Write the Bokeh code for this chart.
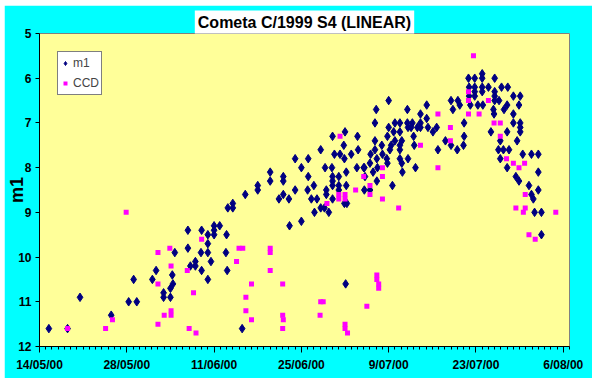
import pandas as pd
from bokeh.plotting import figure
from bokeh.layouts import column, row
from bokeh.models import Range1d, FixedTicker, Legend, Spacer
from bokeh.embed import file_html
from bokeh.resources import INLINE

START = "2000-05-14"
END = "2000-08-07"
tick_dates = ["2000-05-14", "2000-05-28", "2000-06-11", "2000-06-25",
              "2000-07-09", "2000-07-23", "2000-08-06"]
tick_labels = ["14/05/00", "28/05/00", "11/06/00", "25/06/00",
               "9/07/00", "23/07/00", "6/08/00"]
y_ticks = [5, 6, 7, 8, 9, 10, 11, 12]

# visual observations (m1): days after 14/05/2000, magnitude
m1_day = [1.5, 4.5, 6.5, 11.5, 14.3, 15.6, 15.1, 18.1, 18.7, 19.9, 19.9, 21.0, 21.0, 21.4, 21.3,
          21.7, 23.8, 23.8, 24.2, 25.0, 25.0, 26.0, 25.9, 26.0, 27.0, 27.0, 27.0, 27.0, 27.5,
          28.0, 28.0, 28.0, 28.9, 29.9, 30.1, 30.0, 32.5, 30.2, 31.0, 31.0, 33.0, 35.0, 35.0,
          37.0, 37.0, 39.1, 39.1, 39.1, 38.4, 40.0, 40.1, 41.0, 41.0, 42.0, 42.0, 43.1, 43.1,
          43.0, 43.6, 44.0, 44.5, 44.1, 45.1, 45.1, 45.7, 45.8, 46.0, 46.0, 46.4, 46.9, 47.0,
          47.3, 47.0, 47.0, 47.0, 47.0, 48.0, 48.0, 48.2, 48.8, 48.9, 48.9, 49.0, 49.2, 49.2,
          49.3, 49.1, 50.0, 50.9, 51.0, 51.1, 52.1, 52.2, 52.1, 53.0, 53.1, 53.5, 53.0, 53.8,
          53.8, 53.8, 54.0, 54.1, 54.2, 54.1, 54.9, 55.0, 55.8, 55.8, 56.0, 56.0, 56.2, 56.4,
          56.6, 56.8, 57.0, 57.0, 57.8, 57.8, 57.8, 57.8, 57.8, 58.1, 58.2, 58.1, 59.0, 59.0,
          59.1, 59.1, 59.8, 59.6, 60.0, 60.1, 60.3, 60.6, 61.1, 61.1, 61.1, 62.1, 62.1, 62.3,
          63.1, 63.7, 63.9, 65.1, 66.0, 66.0, 66.3, 67.0, 67.1, 67.4, 68.0, 68.1, 68.1, 68.8,
          68.9, 68.9, 69.1, 69.8, 69.8, 69.8, 69.8, 70.3, 71.0, 71.0, 71.0, 71.0, 71.1, 72.0,
          72.4, 72.8, 72.9, 73.0, 73.0, 73.0, 73.0, 73.7, 73.9, 73.6, 74.4, 73.9, 74.1, 75.0,
          75.0, 75.3, 75.0, 75.1, 76.0, 76.0, 76.0, 76.6, 76.4, 76.9, 76.9, 77.1, 77.1, 77.1,
          77.1, 77.5, 78.9, 80.0, 80.0, 78.5, 78.9, 79.2, 80.0, 79.4, 80.5, 80.5, 74.5, 55.7,
          48.0, 52.0]
m1_mag = [11.6, 11.6, 10.9, 11.3, 11.0, 11.0, 10.5, 10.5, 10.3, 10.8, 10.9, 10.9, 10.7, 10.6, 10.4,
          9.9, 9.4, 9.8, 10.2, 10.1, 10.2, 9.4, 9.9, 10.3, 9.5, 9.7, 9.9, 10.5, 10.1,
          9.3, 9.4, 9.5, 9.3, 9.9, 10.3, 9.5, 11.6, 8.9, 8.8, 8.9, 8.6, 8.4, 8.5,
          8.1, 8.3, 8.2, 8.3, 8.6, 8.7, 8.7, 9.3, 7.8, 8.5, 8.0, 9.2, 7.8, 8.2,
          8.5, 8.7, 8.4, 8.7, 9.0, 7.6, 8.9, 8.9, 8.0, 8.5, 8.6, 9.0, 8.0, 7.3,
          7.7, 8.2, 8.3, 8.4, 8.7, 8.4, 8.5, 7.7, 7.5, 7.8, 8.8, 7.2, 8.1, 8.4,
          8.8, 10.6, 7.7, 8.0, 7.3, 7.6, 8.0, 8.2, 8.5, 7.9, 7.7, 8.1, 8.5, 7.0,
          7.4, 7.6, 6.7, 7.8, 8.0, 8.3, 7.5, 7.7, 7.3, 7.9, 6.5, 7.1, 7.6, 7.5,
          8.4, 7.2, 7.0, 7.4, 7.0, 7.2, 7.5, 7.6, 7.8, 7.9, 8.1, 7.4, 6.7, 7.0,
          7.1, 7.8, 7.0, 7.1, 7.3, 7.5, 8.0, 7.1, 6.8, 7.0, 7.1, 6.6, 6.9, 7.1,
          7.2, 7.1, 7.6, 7.4, 6.5, 7.5, 6.7, 7.6, 6.5, 6.6, 7.5, 7.0, 7.3, 6.0,
          6.2, 6.4, 6.6, 6.0, 6.2, 6.3, 6.4, 6.6, 5.9, 6.0, 6.2, 6.3, 6.6, 6.2,
          7.2, 6.7, 6.8, 6.0, 6.3, 6.4, 6.5, 6.5, 7.4, 7.6, 7.6, 7.8, 6.2, 6.6,
          7.2, 7.6, 8.0, 6.2, 6.4, 6.8, 7.0, 7.4, 8.2, 8.3, 6.6, 6.4, 7.0, 7.1,
          7.2, 7.7, 7.7, 7.7, 8.1, 8.4, 8.6, 8.7, 8.5, 9.0, 9.0, 9.5, 6.7, 7.8,
          8.2, 8.0]

# CCD observations: days after 14/05/2000, magnitude
ccd_day = [4.5, 10.6, 11.7, 13.9, 19.0, 19.0, 19.0, 20.0, 20.9, 21.1, 21.1, 21.1, 23.7, 24.7,
           24.0, 25.1, 26.0, 31.6, 32.0, 32.6, 33.1, 33.1, 34.0, 34.0, 37.0, 37.0, 37.0, 39.0,
           39.0, 39.1, 39.0, 45.1, 45.5, 45.0, 49.0, 49.0, 49.4, 54.1, 54.1, 54.4, 54.4, 52.5,
           46.1, 48.0, 48.0, 49.0, 49.0, 48.2, 50.7, 52.0, 53.0, 53.0, 55.0, 55.0, 55.0, 57.6,
           61.1, 63.9, 63.9, 65.9, 65.9, 68.8, 68.8, 68.8, 69.6, 70.5, 72.0, 72.9, 73.9, 73.9,
           74.9, 76.0, 76.9, 77.8, 77.9, 76.4, 77.9, 77.6, 82.8, 78.5, 79.5]
ccd_mag = [11.6, 11.6, 11.4, 9.0, 9.9, 10.6, 11.5, 11.3, 9.8, 10.2, 11.2, 11.3, 10.3, 10.8,
           11.6, 11.7, 9.6, 10.1, 9.8, 9.8, 10.9, 11.2, 10.6, 11.4, 9.8, 9.9, 10.3, 10.6,
           11.3, 11.4, 11.6, 11.0, 11.0, 11.3, 11.5, 11.6, 11.7, 10.4, 10.5, 10.6, 10.7, 11.1,
           8.8, 8.6, 8.7, 8.6, 8.7, 7.3, 8.5, 8.2, 8.4, 8.6, 8.0, 8.2, 8.7, 8.9,
           7.5, 6.8, 8.0, 7.1, 7.4, 6.3, 6.5, 6.8, 5.5, 6.8, 6.5, 7.0, 7.0, 7.3,
           7.8, 7.9, 8.0, 7.9, 8.6, 8.9, 8.9, 9.0, 9.0, 9.5, 9.6]

t0 = pd.Timestamp(START)
x_end = (pd.Timestamp(END) - t0).days
x_ticks = [int((pd.Timestamp(d) - t0).days) for d in tick_dates]

FONT = "Liberation Sans"

p = figure(width=588, height=373, output_backend="svg", toolbar_location=None,
           x_range=Range1d(0, x_end), y_range=Range1d(12, 5),
           min_border_left=32, min_border_right=23, min_border_top=28, min_border_bottom=32,
           background_fill_color="#FFFF99", border_fill_color="#00FFFF",
           outline_line_color="#808080")
p.grid.visible = False

p.title.text = "Cometa C/1999 S4 (LINEAR)"
p.title.align = "center"
p.title.text_font = FONT
p.title.text_font_size = "16px"
p.title.text_font_style = "bold"
p.title.text_color = "black"
p.title.standoff = 0
p.title.background_fill_color = "white"
try:
    p.title.padding = 3
except Exception:
    pass

for ax in (p.xaxis[0], p.yaxis[0]):
    ax.axis_line_color = "black"
    ax.major_tick_line_color = "black"
    ax.minor_tick_line_color = "black"
    ax.major_tick_in = 0
    ax.minor_tick_in = 0
    ax.major_label_text_font = FONT
    ax.major_label_text_font_size = "12px"
    ax.major_label_text_font_style = "bold"
    ax.major_label_text_color = "black"

p.xaxis.ticker = FixedTicker(ticks=x_ticks, minor_ticks=list(range(0, x_end + 1)))
p.xaxis.major_label_overrides = {t: lab for t, lab in zip(x_ticks, tick_labels)}
p.xaxis.major_tick_out = 6
p.xaxis.minor_tick_out = 3
p.xaxis.major_label_standoff = 5

p.yaxis.ticker = FixedTicker(ticks=y_ticks)
p.yaxis.major_tick_out = 4
p.yaxis.minor_tick_out = 0
p.yaxis.major_label_standoff = 4
p.yaxis.axis_label = "m1"
p.yaxis.axis_label_text_font = FONT
p.yaxis.axis_label_text_font_size = "18px"
p.yaxis.axis_label_text_font_style = "bold"
p.yaxis.axis_label_text_color = "black"
p.yaxis.axis_label_standoff = -12
try:
    p.yaxis.axis_label_background_fill_color = "white"
except Exception:
    pass

r1 = p.scatter(m1_day, m1_mag, marker="diamond", size=8.5,
               fill_color="#000080", line_color="#000080")
r2 = p.scatter(ccd_day, ccd_mag, marker="square", size=5,
               fill_color="#FF00FF", line_color=None)

legend = Legend(items=[("m1", [r1]), ("CCD", [r2])], location=(18, 251),
                padding=2, spacing=2, margin=0, glyph_width=10, glyph_height=18,
                label_height=18, label_standoff=3, label_text_font=FONT,
                label_text_font_size="12px", background_fill_color="white",
                background_fill_alpha=1, border_line_color="black", border_line_width=1)
p.add_layout(legend)

layout = column(Spacer(height=5), row(Spacer(width=4), p))

open("out.html", "w").write(file_html(layout, INLINE))
